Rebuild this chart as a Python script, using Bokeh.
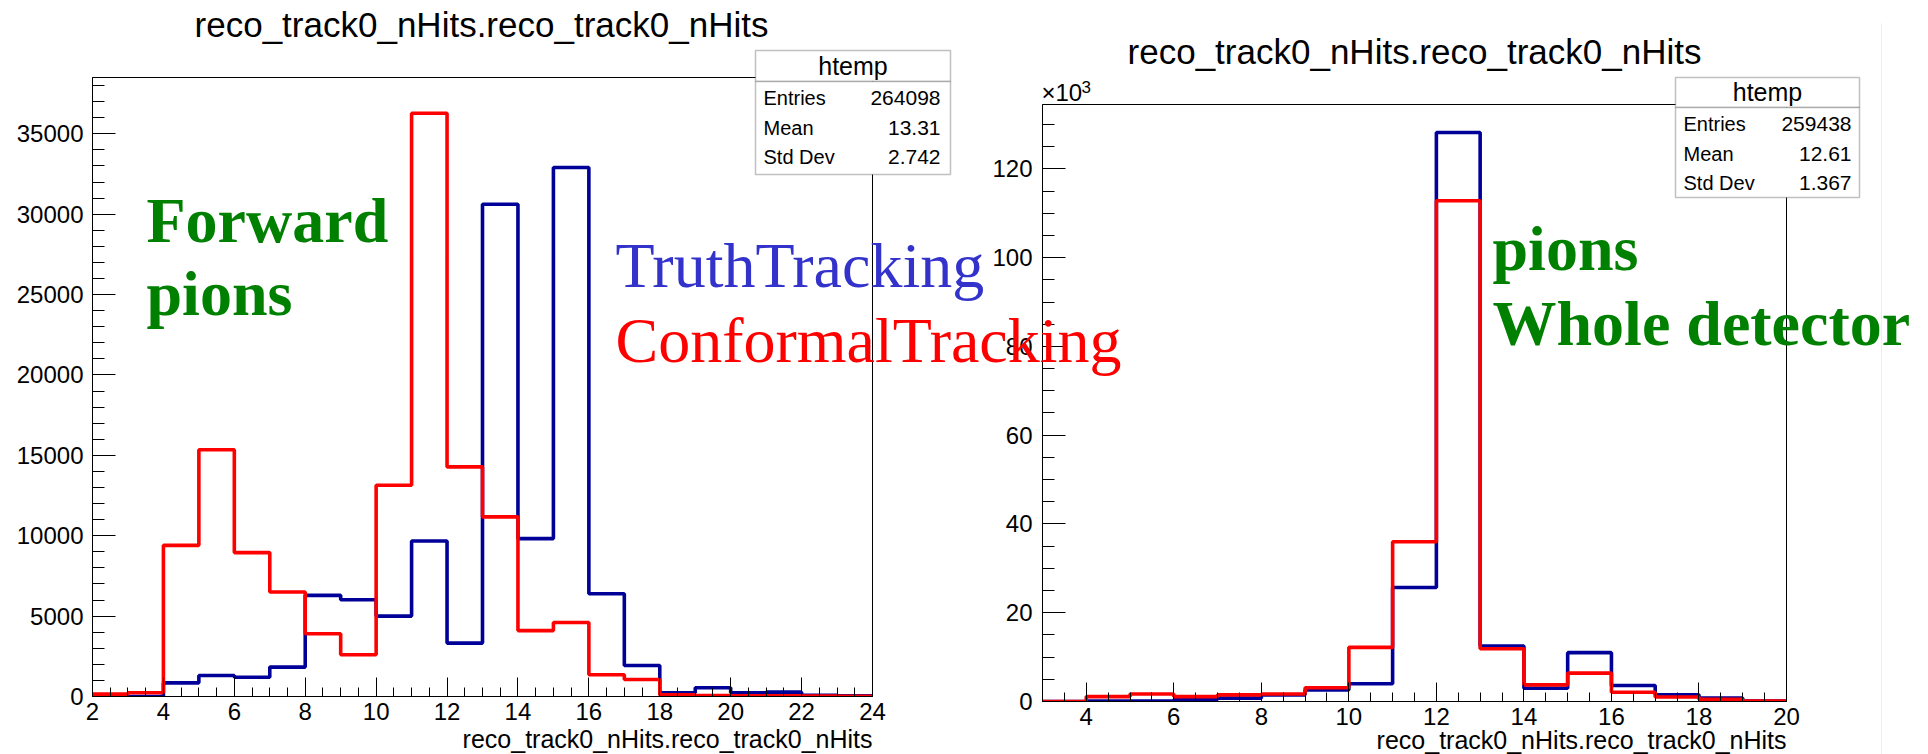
import numpy as np
from bokeh.plotting import figure
from bokeh.models import (Range1d, SingleIntervalTicker, Label, BoxAnnotation,
                          CustomJSTickFormatter)
from bokeh.layouts import row
from bokeh.embed import file_html
from bokeh.resources import INLINE

# ---------------- data ----------------
left_edges = list(range(2, 25))
left_truth = [0, 0, 850, 1310, 1200, 1830, 6290, 6020, 5000, 9670, 3320,
              30620, 9820, 32900, 6390, 1930, 230, 540, 230, 270, 80, 50]
left_conformal = [150, 230, 9400, 15350, 8950, 6500, 3900, 2600, 13140, 36280,
                  14280, 11170, 4100, 4600, 1350, 1060, 100, 60, 50, 40, 30, 20]

right_edges = list(range(3, 21))
right_truth = [0, 100, 100, 450, 750, 1500, 2600, 4000, 25700, 128200, 12500,
               3000, 11000, 3600, 1500, 800, 100]
right_conformal = [0, 1100, 1700, 1100, 1500, 1700, 3100, 12200, 36000, 112800,
                   11900, 3750, 6400, 2100, 1000, 500, 100]

title_text = "reco_track0_nHits.reco_track0_nHits"
x_label = "reco_track0_nHits.reco_track0_nHits"
stats_name = "htemp"
left_stats = [("Entries", "264098"), ("Mean", "13.31"), ("Std Dev", "2.742")]
right_stats = [("Entries", "259438"), ("Mean", "12.61"), ("Std Dev", "1.367")]

SANS = "Liberation Sans"
SERIF = "Liberation Serif"
WIN_W, WIN_H = 1928, 754
TRUTH_COLOR = "#000099"
CONF_COLOR = "#ff0000"
U = "canvas"
BOTTOM = 40   # shared bottom border of the two histogram figures
LW = 3.6


def make_fig(width, frame, xr, yr, xint, yint, yminor, ylab_standoff):
    fl, fr, ft, fb = frame          # frame edges in window pixels (x relative to fig)
    height = (fb - ft) + BOTTOM
    p = figure(width=width, height=height, x_range=Range1d(*xr), y_range=Range1d(*yr),
               output_backend="svg", toolbar_location=None,
               min_border_left=fl, min_border_right=width - fr,
               min_border_top=0, min_border_bottom=BOTTOM)
    p.xgrid.visible = False
    p.ygrid.visible = False
    p.outline_line_color = "black"
    p.outline_line_width = 1
    p.outline_line_alpha = 1
    p.xaxis.ticker = SingleIntervalTicker(interval=xint, num_minor_ticks=4)
    p.yaxis.ticker = SingleIntervalTicker(interval=yint, num_minor_ticks=yminor)
    for ax in (p.xaxis[0], p.yaxis[0]):
        ax.axis_line_color = "black"
        ax.major_tick_line_color = "black"
        ax.minor_tick_line_color = "black"
        ax.major_tick_out = 0
        ax.minor_tick_out = 0
        ax.major_label_text_font = SANS
        ax.major_label_text_font_size = "24px"
        ax.major_label_text_color = "black"
    p.xaxis.major_tick_in = 19
    p.xaxis.minor_tick_in = 9
    p.xaxis.major_label_standoff = 6
    p.yaxis.major_tick_in = 23
    p.yaxis.minor_tick_in = 12
    p.yaxis.major_label_standoff = ylab_standoff
    return p


# ---------------- left panel ----------------
p1 = make_fig(960, (92, 872, 77, 696), (2, 24), (0, 38500), 2, 5000, 5, 9)
p1.step(x=left_edges, y=left_truth + [left_truth[-1]], mode="after",
        line_color=TRUTH_COLOR, line_width=LW)
p1.step(x=left_edges, y=left_conformal + [left_conformal[-1]], mode="after",
        line_color=CONF_COLOR, line_width=LW)
p1.margin = (77, 0, 0, 0)

# ---------------- right panel ----------------
OFF = 960
p2 = make_fig(968, (82, 1786 - OFF, 104, 701), (3, 20), (0, 134500), 2, 20000, 4, 10)
p2.yaxis.formatter = CustomJSTickFormatter(code="return (tick / 1000).toFixed(0);")
p2.step(x=right_edges, y=right_truth + [right_truth[-1]], mode="after",
        line_color=TRUTH_COLOR, line_width=LW)
p2.step(x=right_edges, y=right_conformal + [right_conformal[-1]], mode="after",
        line_color=CONF_COLOR, line_width=LW)
p2.margin = (104, 0, 0, 0)

# ---------------- transparent overlay for free texts and stat boxes ----------------
p3 = figure(width=WIN_W, height=WIN_H + BOTTOM, x_range=Range1d(0, 1), y_range=Range1d(0, 1),
            output_backend="svg", toolbar_location=None,
            x_axis_location=None, y_axis_location=None, min_border=0)
p3.grid.visible = False
p3.outline_line_color = None
p3.background_fill_color = None
p3.border_fill_color = None
p3.margin = (0, 0, -BOTTOM, -WIN_W)


def add_text(px, py, text, size, color="black", font=SANS, style="normal",
             align="left"):
    # py is the vertical middle of the text line
    p3.add_layout(Label(x=px, y=py, x_units=U, y_units=U, text=text, text_font=font,
                        text_font_size=f"{size}px", text_color=color,
                        text_font_style=style, text_align=align,
                        text_baseline="middle"))


def add_box(l, r, t, b, **kw):
    p3.add_layout(BoxAnnotation(left=l, right=r, top=t, bottom=b,
                                left_units=U, right_units=U, top_units=U, bottom_units=U,
                                **kw))


def add_stats(stats, box, divider, rows_y, lab_x, val_x, head_y):
    l, r, t, b = box
    add_box(l, r, t, divider, fill_color="white", fill_alpha=1,
            line_color="#333333", line_width=1.5)
    add_box(l, r, divider, b, fill_color="white", fill_alpha=1,
            line_color="#333333", line_width=1.5)
    add_text((l + r) / 2, head_y, stats_name, 25, align="center")
    for (name, val), ry in zip(stats, rows_y):
        add_text(lab_x, ry, name, 20)
        add_text(val_x, ry, val, 21, align="right")


# left panel texts
add_text(481, 24, title_text, 35, align="center")
add_text(872, 738, x_label, 25, align="right")
add_text(146, 220, "Forward", 64, color="#008000", font=SERIF, style="bold")
add_text(146, 293, "pions", 64, color="#008000", font=SERIF, style="bold")
add_text(615, 265, "TruthTracking", 64, color="#3333cc", font=SERIF)
add_text(615, 340, "ConformalTracking", 64, color="#ff0000", font=SERIF)
add_stats(left_stats, (755, 950, 50, 174), 81, (97, 127, 156), 763, 940, 65)

# right panel texts
add_text(1414, 51, title_text, 35, align="center")
add_text(1786, 739, x_label, 25, align="right")
add_text(1041, 92, "\u00d710", 24)
add_text(1081, 86, "3", 17)
add_text(1492, 248, "pions", 64, color="#008000", font=SERIF, style="bold")
add_text(1492, 323, "Whole detector", 64, color="#008000", font=SERIF, style="bold")
add_stats(right_stats, (1675, 1859, 77, 197), 107, (123, 153, 182), 1683, 1851, 91)

# faint window edge line on the far right
add_box(1881, 1881, 23, 754, fill_alpha=0, line_color="#dddddd", line_width=1)

layout = row(p1, p2, p3)
layout.styles = {"overflow": "hidden"}
open("out.html", "w").write(file_html(layout, INLINE))
